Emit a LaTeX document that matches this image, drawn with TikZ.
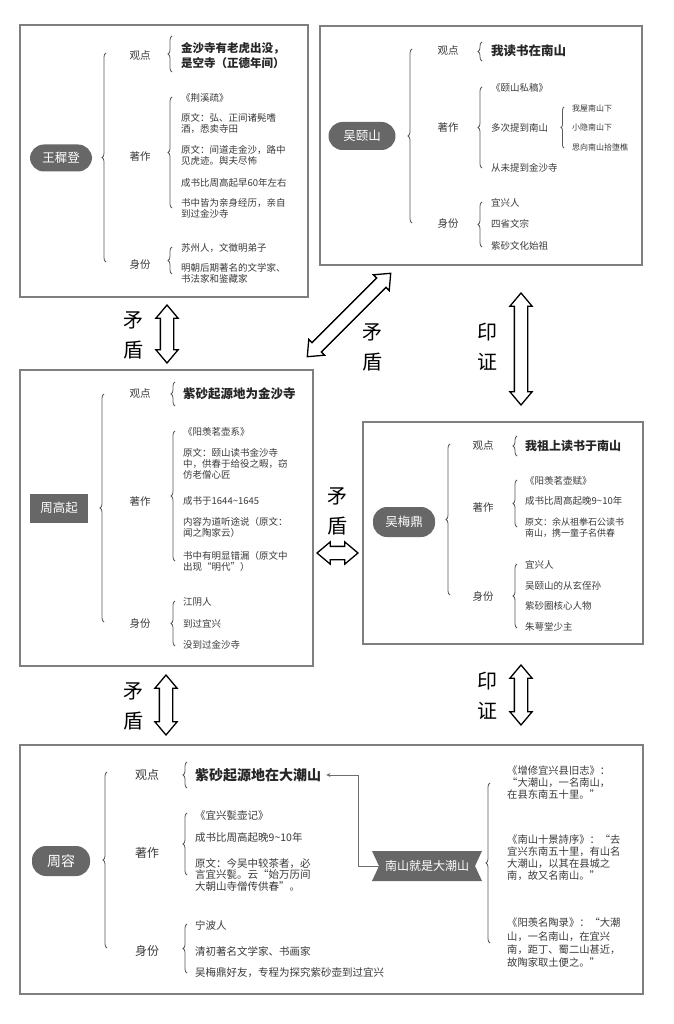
\documentclass[tikz,border=0pt]{standalone}
\usepackage{fontspec}
\setmainfont{Noto Sans CJK SC}
\usetikzlibrary{shapes.arrows,shapes.symbols,decorations.pathreplacing,arrows.meta}
\definecolor{boxgray}{HTML}{7F7F7F}
\definecolor{pillgray}{HTML}{676767}
\definecolor{txtgray}{HTML}{3A3A3A}
\definecolor{txtdark}{HTML}{262626}
\definecolor{bracegray}{HTML}{595959}
\definecolor{linkgray}{HTML}{6E6E6E}
\begin{document}
\begin{tikzpicture}[x=1pt,y=-1pt]
        \tikzstyle{frame}=[draw=boxgray,line width=1.1pt]
        \tikzstyle{pill}=[fill=pillgray,text=white,rounded corners=14pt,inner sep=0pt,font=\fontsize{12.5}{14}\selectfont]
        \tikzstyle{tag}=[text=txtgray,inner sep=0pt,font=\fontsize{10.5}{12}\selectfont]
        \tikzstyle{view}=[text=txtdark,anchor=west,align=left,inner sep=0pt,font=\bfseries\fontsize{12.5}{15}\selectfont]
        \tikzstyle{item}=[text=txtgray,anchor=west,align=left,inner sep=0pt,font=\fontsize{9.5}{11}\selectfont]
        \tikzstyle{tiny}=[item,font=\fontsize{8}{9}\selectfont]
        \tikzstyle{curly}=[draw=bracegray,line width=0.8pt,decorate,decoration={brace,amplitude=4pt}]
        \tikzstyle{hollow}=[double arrow,draw=black,line width=1.3pt,fill=white,inner xsep=0pt,inner ysep=6pt,double arrow head extend=4.5pt,double arrow tip angle=80]
        \tikzstyle{relword}=[align=center,inner sep=0pt,font=\fontsize{20}{30}\selectfont]
        \tikzstyle{banner}=[signal,signal from=west and east,signal to=nowhere,signal pointer angle=130,fill=pillgray,text=white,inner sep=0pt,minimum width=110pt,minimum height=30pt,font=\fontsize{12}{14}\selectfont]
        \tikzstyle{link}=[draw=linkgray,line width=0.9pt,-{Stealth[length=4pt,width=4pt]}]
        \useasboundingbox[fill=white] (0,0) rectangle (673,1024);
        \draw[frame] (20,25) rectangle (308,297);
        \draw[frame] (320,26) rectangle (642,265);
        \draw[frame] (20,370) rectangle (313,666);
        \draw[frame] (363,422) rectangle (643,644);
        \draw[frame] (20,745) rectangle (643,994);
        % wang zhideng
        \node[pill,minimum width=62pt,minimum height=27pt] (wang) at (61,158) {王穉登};
        \draw[curly] (106,262) -- (106,53);
        \node[tag] (wangview) at (140,56) {观点};
        \node[tag] (wangbook) at (140,157) {著作};
        \node[tag] (wangid) at (140,265) {身份};
        \draw[curly] (172,72) -- (172,36);
        \node[view,font=\bfseries\fontsize{11.5}{15}\selectfont] (wangv) at (181,55.5) {金沙寺有老虎出没，\\是空寺（正德年间）};
        \draw[curly] (172,208) -- (172,97);
        \node[item] (wangb1) at (181,98) {《荆溪疏》};
        \node[item] (wangb2) at (181,123.5) {原文：弘、正间诸髡嗜\\酒，悉卖寺田};
        \node[item] (wangb3) at (181,155.5) {原文：间道走金沙，路中\\见虎迹。舆夫尽怖};
        \node[item] (wangb4) at (181,183) {成书比周高起早60年左右};
        \node[item] (wangb5) at (181,208.5) {书中皆为亲身经历，亲自\\到过金沙寺};
        \draw[curly] (172,274) -- (172,247);
        \node[item] (wangi1) at (181,248) {苏州人，文徵明弟子};
        \node[item] (wangi2) at (181,273.5) {明朝后期著名的文学家、\\书法家和鉴藏家};
        % wu yishan
        \node[pill,minimum width=67pt,minimum height=28pt] (wuyi) at (362,136) {吴颐山};
        \draw[curly] (412,223) -- (412,49);
        \node[tag] (wuyiview) at (448,51) {观点};
        \node[tag] (wuyibook) at (448,128) {著作};
        \node[tag] (wuyiid) at (448,224) {身份};
        \draw[curly] (482,61) -- (482,42);
        \node[view] (wuyiv) at (491,51) {我读书在南山};
        \draw[curly] (482,168) -- (482,87);
        \node[item] (wuyib1) at (491,88) {《颐山私稿》};
        \node[item] (wuyib2) at (491,128) {多次提到南山};
        \node[item] (wuyib3) at (491,168) {从未提到金沙寺};
        \draw[curly,decoration={brace,amplitude=3pt}] (564,148) -- (564,107);
        \node[tiny] (poem1) at (572,108) {我屋南山下};
        \node[tiny] (poem2) at (572,127) {小隐南山下};
        \node[tiny] (poem3) at (572,147) {思向南山拾堕樵};
        \draw[curly] (482,247) -- (482,202);
        \node[item] (wuyii1) at (491,203) {宜兴人};
        \node[item] (wuyii2) at (491,224) {四省文宗};
        \node[item] (wuyii3) at (491,246) {紫砂文化始祖};
        % zhou gaoqi
        \node[fill=pillgray,text=white,inner sep=0pt,minimum width=58pt,minimum height=29pt,font=\fontsize{12.5}{14}\selectfont] (zhougq) at (59,508) {周高起};
        \draw[curly] (104,622) -- (104,394);
        \node[tag] (zgqview) at (140,394) {观点};
        \node[tag] (zgqbook) at (140,502) {著作};
        \node[tag] (zgqid) at (140,624) {身份};
        \draw[curly] (175,406) -- (175,382);
        \node[view] (zgqv) at (183,394) {紫砂起源地为金沙寺};
        \draw[curly] (175,561) -- (175,431);
        \node[item] (zgqb1) at (183,432) {《阳羡茗壶系》};
        \node[item] (zgqb2) at (183,464) {原文：颐山读书金沙寺\\中，供春于给役之暇，窃\\仿老僧心匠};
        \node[item] (zgqb3) at (183,501) {成书于1644\textasciitilde1645};
        \node[item] (zgqb4) at (183,527.5) {内容为道听途说（原文：\\闻之陶家云）};
        \node[item] (zgqb5) at (183,561.5) {书中有明显错漏（原文中\\出现“明代”）};
        \draw[curly] (175,646) -- (175,601);
        \node[item] (zgqi1) at (183,602) {江阴人};
        \node[item] (zgqi2) at (183,624) {到过宜兴};
        \node[item] (zgqi3) at (183,645) {没到过金沙寺};
        % wu meiding
        \node[pill,minimum width=62pt,minimum height=30pt] (wumd) at (404,522) {吴梅鼎};
        \draw[curly] (450,595) -- (450,444);
        \node[tag] (wmdview) at (483,446) {观点};
        \node[tag] (wmdbook) at (483,508) {著作};
        \node[tag] (wmdid) at (483,597) {身份};
        \draw[curly] (517,456) -- (517,436);
        \node[view,font=\bfseries\fontsize{12}{15}\selectfont] (wmdv) at (525,446) {我祖上读书于南山};
        \draw[curly] (517,527) -- (517,480);
        \node[item] (wmdb1) at (525,481) {《阳羡茗壶赋》};
        \node[item] (wmdb2) at (525,501) {成书比周高起晚9\textasciitilde10年};
        \node[item,font=\fontsize{9}{11}\selectfont] (wmdb3) at (525,527.5) {原文：余从祖拳石公读书\\南山，携一童子名供春};
        \draw[curly] (517,628) -- (517,564);
        \node[item] (wmdi1) at (525,565) {宜兴人};
        \node[item] (wmdi2) at (525,586) {吴颐山的从玄侄孙};
        \node[item] (wmdi3) at (525,606) {紫砂圈核心人物};
        \node[item] (wmdi4) at (525,627) {朱萼堂少主};
        % zhou rong
        \node[pill,minimum width=58pt,minimum height=30pt,font=\fontsize{14}{16}\selectfont] (zhourong) at (61,861) {周容};
        \draw[curly] (107,948) -- (107,772);
        \node[tag,font=\fontsize{12}{14}\selectfont] (zrview) at (147,775) {观点};
        \node[tag,font=\fontsize{12}{14}\selectfont] (zrbook) at (147,853) {著作};
        \node[tag,font=\fontsize{12}{14}\selectfont] (zrid) at (147,951) {身份};
        \draw[curly] (187,788) -- (187,762);
        \node[view,font=\bfseries\fontsize{14}{16}\selectfont] (zrv) at (195,775) {紫砂起源地在大潮山};
        \draw[curly] (187,875) -- (187,813);
        \node[item,font=\fontsize{10.5}{11.5}\selectfont] (zrb1) at (195,815) {《宜兴甏壶记》};
        \node[item,font=\fontsize{10.5}{11.5}\selectfont] (zrb2) at (195,838) {成书比周高起晚9\textasciitilde10年};
        \node[item,font=\fontsize{10.5}{11.5}\selectfont] (zrb3) at (195,874.5) {原文：今吴中较茶者，必\\言宜兴甏。云“始万历间\\大朝山寺僧传供春”。};
        \draw[curly] (187,973) -- (187,924);
        \node[item,font=\fontsize{10.5}{11.5}\selectfont] (zri1) at (195,925) {宁波人};
        \node[item,font=\fontsize{10.5}{11.5}\selectfont] (zri2) at (195,951) {清初著名文学家、书画家};
        \node[item,font=\fontsize{10.5}{11.5}\selectfont] (zri3) at (195,973) {吴梅鼎好友，专程为探究紫砂壶到过宜兴};
        \node[banner] (nanshan) at (427,866) {南山就是大潮山};
        \draw[link] (nanshan.west) -- ++(-20,0) |- ([xshift=5pt]zrv.east);
        \draw[curly] (490,943) -- (490,783);
        \node[item,font=\fontsize{10.3}{11.7}\selectfont] (src1) at (507,782.5) {《增修宜兴县旧志》：\\“大潮山，一名南山，\\在县东南五十里。”};
        \node[item,font=\fontsize{10.3}{12}\selectfont] (src2) at (507,858) {《南山十景詩序》：“去\\宜兴东南五十里，有山名\\大潮山，以其在县城之\\南，故又名南山。”};
        \node[item,font=\fontsize{10.3}{13.3}\selectfont] (src3) at (507,943) {《阳羡名陶录》：“大潮\\山，一名南山，在宜兴\\南，距丁、蜀二山甚近，\\故陶家取土便之。”};
        % relations
        \node[hollow,minimum height=58pt,rotate=90] (rel1) at (167,334) {};
        \node[relword] (rel1t) at (133,335) {矛\\盾};
        \node[hollow,minimum height=118pt,rotate=45] (rel2) at (349,315) {};
        \node[relword] (rel2t) at (372,347) {矛\\盾};
        \node[hollow,minimum height=112pt,rotate=90] (rel3) at (521,349) {};
        \node[relword] (rel3t) at (487,347) {印\\证};
        \node[hollow,minimum height=41pt] (rel4) at (337.5,553) {};
        \node[relword] (rel4t) at (337,511) {矛\\盾};
        \node[hollow,minimum height=60pt,rotate=90] (rel5) at (166,705) {};
        \node[relword] (rel5t) at (133,706) {矛\\盾};
        \node[hollow,minimum height=60pt,rotate=90] (rel6) at (521,695) {};
        \node[relword] (rel6t) at (487,696) {印\\证};
\end{tikzpicture}
\end{document}
